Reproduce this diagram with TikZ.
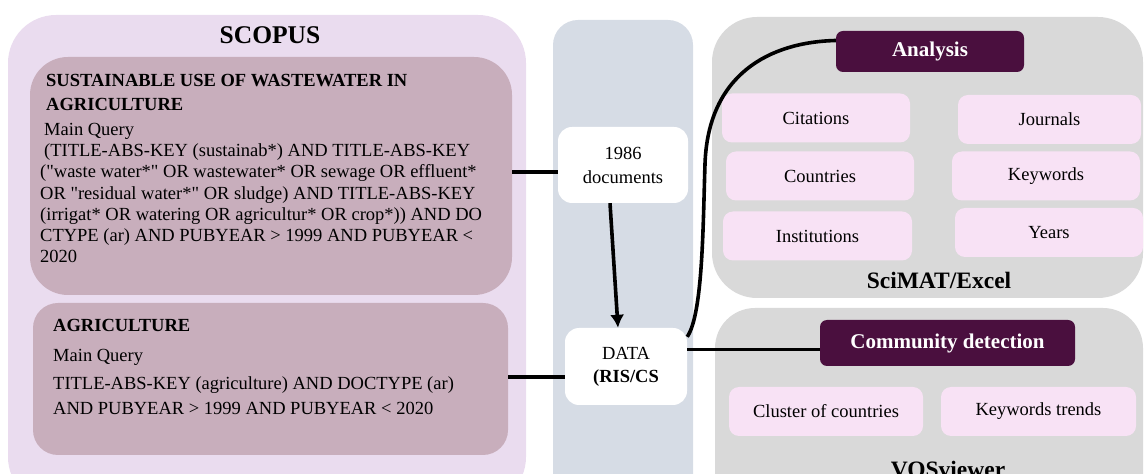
\documentclass[tikz,border=0pt]{standalone}
\usepackage{fontspec}
\setmainfont{Liberation Serif}
\usetikzlibrary{arrows.meta}

\definecolor{scopusbg}{HTML}{EADCEF}
\definecolor{querybg}{HTML}{C8AEBC}
\definecolor{databg}{HTML}{D6DCE5}
\definecolor{toolbg}{HTML}{D9D9D9}
\definecolor{headbg}{HTML}{4A0F3E}
\definecolor{itembg}{HTML}{F8E2F5}

\newcommand{\fontbody}{\fontsize{18.5}{21.3}\selectfont}
\newcommand{\fonthead}{\fontsize{21}{24}\selectfont\bfseries}
\newcommand{\fonttool}{\fontsize{23.5}{26}\selectfont\bfseries}
\newcommand{\fonttitle}{\fontsize{25.5}{28}\selectfont\bfseries}
\newcommand{\qq}{\textquotedbl}

\tikzset{
  zone/.style={rectangle, inner sep=0pt, rounded corners=#1},
  qtext/.style={inner sep=0pt, align=left, font=\fontbody, anchor=base west},
  whitebox/.style={zone=14pt, fill=white, align=center, font=\fontbody},
  headbox/.style={zone=7pt, fill=headbg, text=white, font=\fonthead},
  itembox/.style={zone=10pt, fill=itembg, font=\fontbody, minimum height=49pt},
  link/.style={line width=3.6pt},
  >={Latex[length=13pt,width=14pt]}
}

\begin{document}
\begin{tikzpicture}[x=1pt,y=1pt]
\path[use as bounding box] (0,0) rectangle (1144,474);
\clip (0,0) rectangle (1144,474);

\node[zone=48pt, fill=scopusbg, minimum width=518pt, minimum height=490pt] (scopus) at (267,214) {};
\node[font=\fonttitle] (scopustitle) at (270,439) {SCOPUS};
\node[zone=38pt, fill=querybg, minimum width=482pt, minimum height=238pt] (q1) at (271,298) {};
\node[zone=25pt, fill=querybg, minimum width=475pt, minimum height=152pt] (q2) at (270.5,95) {};

\node[qtext] (q1text) at (40,211) {\hspace*{6pt}\textbf{SUSTAINABLE USE OF WASTEWATER IN}\\[2.7pt]
\hspace*{6pt}\textbf{AGRICULTURE}\\[3.7pt]
\hspace*{4pt}Main Query\\
\hspace*{4pt}(TITLE-ABS-KEY (sustainab*) AND TITLE-ABS-KEY\\
(\qq waste water*\qq{} OR wastewater* OR sewage OR effluent*\\
OR \qq residual water*\qq{} OR sludge) AND TITLE-ABS-KEY\\
(irrigat* OR watering OR agricultur* OR crop*)) AND DO\\
CTYPE (ar) AND PUBYEAR > 1999 AND PUBYEAR <\\
2020};
\node[qtext] (q2text) at (53,59) {\textbf{AGRICULTURE}\\[8.7pt]
Main Query\\[6.7pt]
TITLE-ABS-KEY (agriculture) AND DOCTYPE (ar)\\[3.7pt]
AND PUBYEAR > 1999 AND PUBYEAR < 2020};

\node[zone=25pt, fill=databg, minimum width=140pt, minimum height=480pt] (datacol) at (623,214) {};
\node[whitebox, minimum width=130pt, minimum height=76pt] (docs) at (623,309) {1986\\[2.7pt]documents};
\node[whitebox, minimum width=122pt, minimum height=77pt] (data) at (626,107.5) {DATA\\[1.7pt]\textbf{(RIS/CS}};

\node[zone=45pt, fill=toolbg, minimum width=431pt, minimum height=281pt] (scimat) at (927.5,316.5) {};
\node[zone=40pt, fill=toolbg, minimum width=428pt, minimum height=212pt] (vos) at (929,60) {};

\node[headbox, minimum width=188pt, minimum height=41pt] (ana) at (930,422.5) {Analysis};
\node[itembox, minimum width=188pt] (cit) at (816,356) {Citations};
\node[itembox, minimum width=183pt] (jour) at (1049.5,354.5) {Journals};
\node[itembox, minimum width=188pt] (coun) at (820,298) {Countries};
\node[itembox, minimum width=188pt] (keyw) at (1046,298) {Keywords};
\node[itembox, minimum width=189pt] (inst) at (817.5,238) {Institutions};
\node[itembox, minimum width=188pt] (year) at (1049,241.5) {Years};
\node[font=\fonttool] (scimattitle) at (939,194) {SciMAT/Excel};

\node[headbox, minimum width=255pt, minimum height=46pt] (comm) at (947.5,131) {Community detection};
\node[itembox, minimum width=194pt] (clus) at (826,62.5) {Cluster of countries};
\node[itembox, minimum width=195pt] (trend) at (1038.5,62.5) {Keywords trends};
\node[font=\fonttool, anchor=base] (vostitle) at (948,-4) {VOSviewer};

\coordinate (bend) at (705,310);

\path[draw,link] ([yshift=-7pt]docs.west) -- ([yshift=-7pt]docs.west -| q1.east);
\path[draw,link] ([yshift=-10.5pt]data.west) -- ([yshift=-10.5pt]data.west -| q2.east);
\path[draw,link,->] ([xshift=-13pt]docs.south) -- ([xshift=-8pt]data.north);
\path[draw,link] ([yshift=-9pt]data.north east) .. controls (703,160) and (703,250) .. (bend)
  .. controls (708,400) and (770,432) .. ([yshift=11pt]ana.west);
\path[draw,link] ([yshift=-6.5pt]comm.west) -- ([yshift=-6.5pt]comm.west -| data.east);

\end{tikzpicture}
\end{document}
